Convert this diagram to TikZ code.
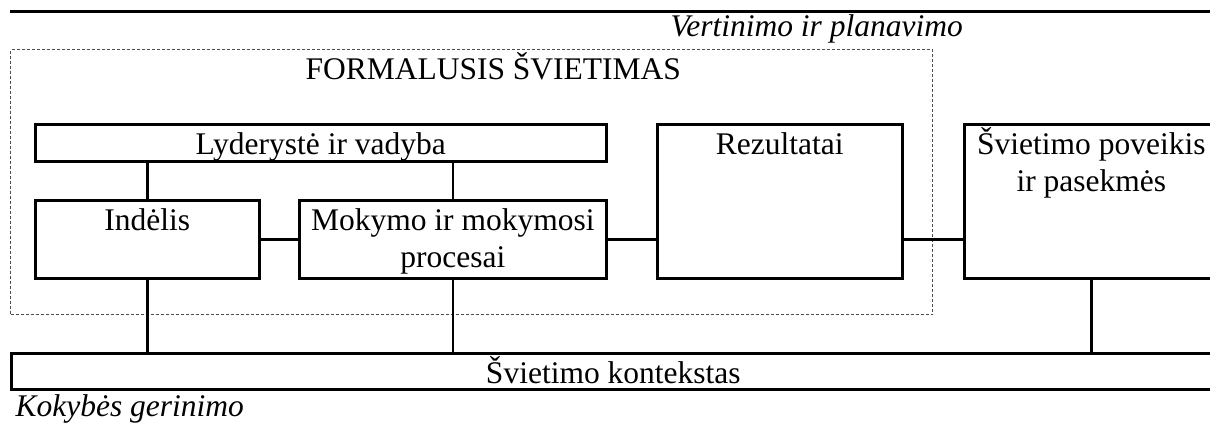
\documentclass[tikz,border=0pt]{standalone}
\usepackage{fontspec}
\setmainfont{Liberation Serif}
\usepackage{tikz}
\usetikzlibrary{calc}
\usetikzlibrary{positioning}

\begin{document}
\begin{tikzpicture}[x=1pt, y=-1pt, font=\fontsize{31.5}{37}\selectfont]
\tikzstyle{box}=[rectangle,align=center,draw,line width=2.6pt,inner sep=0pt,anchor=north west,text height=30pt]
\tikzstyle{frame}=[rectangle,draw=black!70,line width=1.3pt,dash pattern=on 3pt off 2pt,inner sep=0pt,anchor=north west]
\tikzstyle{conn}=[line width=2.6pt]
\clip (0, 0) rectangle (1210, 426);
\draw[line width=3pt] (10, 11) -- (1212, 11);
\node[anchor=base west,font=\fontsize{31.5}{37}\selectfont\itshape] at(667, 36) (vert) {Vertinimo ir planavimo};
\node[frame,minimum width=922pt,minimum height=265pt] at(10, 49) (formal) {};
\node[anchor=base west] at(302, 79) (formaltitle) {FORMALUSIS ŠVIETIMAS};
% boxes
\node[box,minimum width=571pt,text depth=7pt] at(34, 123) (lyder) {Lyderystė ir vadyba};
\node[box,minimum width=224pt,text depth=48pt] at(34, 199) (indelis) {Indėlis};
\node[box,minimum width=307pt,text height=67pt,text depth=11pt] at(298, 199) (mokymas) {Mokymo ir mokymosi\\procesai};
\node[box,minimum width=245pt,text depth=124pt] at(656, 123) (rezult) {Rezultatai};
\node[box,minimum width=254pt,text height=67pt,text depth=87pt] at(963, 123) (poveikis) {Švietimo poveikis\\ir pasekmės};
\node[box,minimum width=1204pt,text depth=6pt] at(10, 352) (kontekst) {Švietimo kontekstas};
\node[anchor=base west,font=\fontsize{31.5}{37}\selectfont\itshape] at(12, 416) (kokybe) {Kokybės gerinimo};
% connectors
\draw[conn] (indelis.north) -- (indelis.north |- lyder.south);
\draw[conn] (mokymas.north) -- (mokymas.north |- lyder.south);
\draw[conn] (indelis.east) -- (mokymas.west);
\draw[conn] (mokymas.east) -- (mokymas.east -| rezult.west);
\draw[conn] (rezult.east |- mokymas.east) -- (poveikis.west |- mokymas.east);
\draw[conn] (indelis.south) -- (indelis.south |- kontekst.north);
\draw[conn] (mokymas.south) -- (mokymas.south |- kontekst.north);
\draw[conn] (poveikis.south) -- (poveikis.south |- kontekst.north);
\end{tikzpicture}
\end{document}
